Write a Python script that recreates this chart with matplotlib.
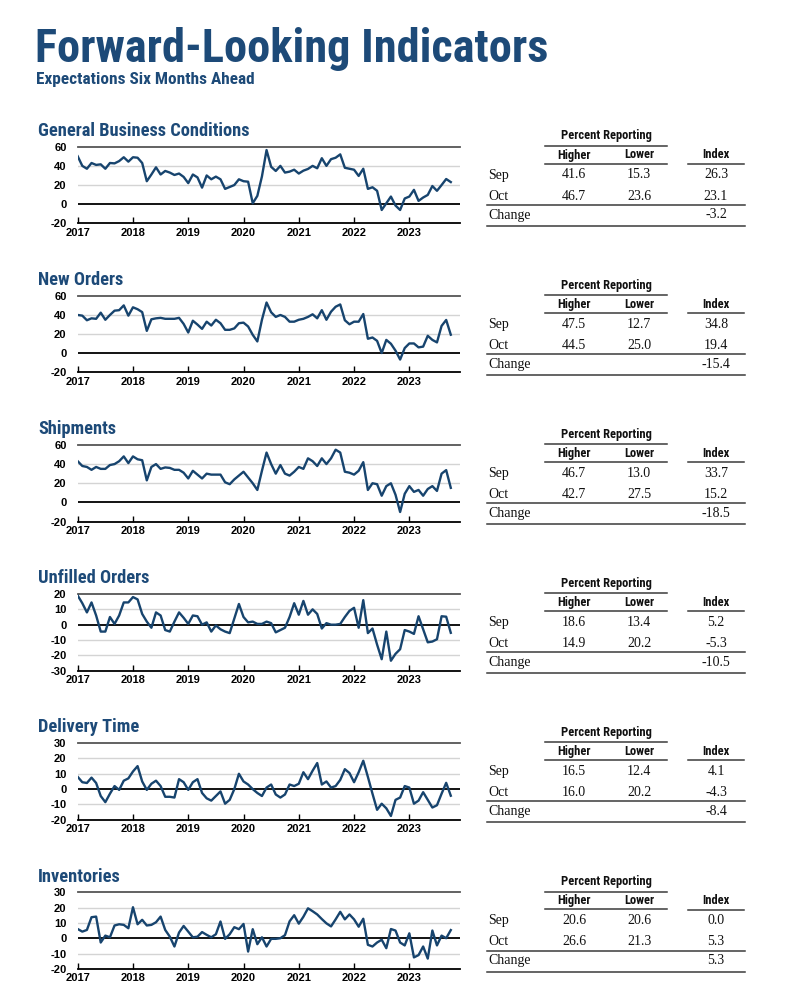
import numpy as np
import matplotlib
matplotlib.use('Agg')
import matplotlib.pyplot as plt
from matplotlib import font_manager

W, H = 787, 1000

title_col = '#1d4a78'
line_col = '#17446e'
serif = ['Liberation Serif', 'DejaVu Serif']
sans = ['Liberation Sans', 'DejaVu Sans']

# pick a narrow / condensed family if one is installed
avail = {}
for f in font_manager.fontManager.ttflist:
    avail.setdefault(f.name, set()).add(f.stretch)
narrow_name, narrow_stretch = 'Roboto', 'normal'
for cand in ['Liberation Sans Narrow', 'Roboto Condensed', 'Open Sans Condensed',
             'Noto Sans Condensed', 'DejaVu Sans Condensed', 'Arial Narrow']:
    if cand in avail:
        narrow_name, narrow_stretch = cand, 'normal'
        break
else:
    for cand in ['Noto Sans', 'Open Sans', 'Roboto', 'DejaVu Sans']:
        st = [s for s in avail.get(cand, ()) if 'condensed' in str(s)]
        if st:
            narrow_name, narrow_stretch = cand, st[0]
            break
narrow = dict(family=[narrow_name, 'DejaVu Sans'], stretch=narrow_stretch)

# ---- data (monthly, Jan 2017 - Oct 2023) ----
years = ['2017', '2018', '2019', '2020', '2021', '2022', '2023']
panel_titles = ['General Business Conditions', 'New Orders', 'Shipments',
                'Unfilled Orders', 'Delivery Time', 'Inventories']

general = [50, 40, 37, 43, 41, 41.6, 37, 43, 42.6, 45,
           49, 44.4, 49, 48.5, 43, 24, 31, 38.5, 31, 34.7,
           33, 30.5, 32, 28.5, 22, 31, 28, 17.3, 30, 26,
           28.8, 26, 16, 18, 20, 26, 24, 23.5, 1, 8.7,
           29, 56.5, 39, 34.7, 40, 33, 34, 36, 32, 35,
           36.8, 40, 37.5, 48, 40, 47, 48.5, 52, 38, 37,
           36, 29.5, 37, 16, 17.7, 14, -6, 1, 8, -1.4,
           -6, 6, 8, 15, 3.5, 7, 9.7, 19, 14, 20,
           26.3, 23.1]
new_orders = [40, 39.3, 34.5, 36.5, 36, 42.4, 35, 40, 44.5, 45,
              50, 39.3, 48, 46, 43, 23.4, 35.5, 36.5, 37, 36,
              36, 36, 37, 30.7, 21.7, 34, 30, 25.5, 33, 29,
              35, 31.4, 24.5, 24.5, 26, 31.4, 32, 28, 19.3, 12.4,
              35, 53, 42.8, 38, 40, 38, 33, 33, 35, 36,
              38, 40.7, 36.5, 45, 35, 43.4, 48.6, 51, 34.5, 30.3,
              33, 33, 41, 15.2, 16.5, 13, 0.3, 14, 10, 2.8,
              -6.5, 5.5, 10.3, 10.3, 6.2, 7, 18.3, 14, 11.4, 28.6,
              34.8, 19.4]
shipments = [43, 38, 37, 34, 37, 35, 35, 39, 40, 43,
             48, 41, 48, 45, 44, 23, 37, 40, 35, 36.5,
             36, 34, 34, 31, 25, 33, 29, 25, 30, 29,
             29, 29, 21, 19, 24, 28, 32, 26, 20, 13,
             33, 52, 40, 30, 39, 30, 28, 32, 37, 35,
             46, 43, 38, 46, 40, 46, 55, 52, 32, 31,
             29, 33, 42, 13, 20, 19, 7, 17, 20, 8,
             -10, 9, 17, 11, 13, 7, 14, 17, 12, 30,
             33.7, 15.2]
unfilled = [19, 14, 8, 14.5, 6, -4.5, -4.5, 5, 0.5, 6,
            14.5, 14.5, 18, 16.5, 7, 2, -2, 8, 6, -3.5,
            -4.5, 2, 8, 4.5, 0.5, 6, 5.5, 0, 1.5, -4.5,
            -0.5, -3, -4.5, -5.5, 4, 13.5, 5, 1.5, 2, 0.5,
            0.5, 2, 1, -5, -3.5, -2, 5, 14, 6.5, 15.5,
            6.5, 10, 7, -2.5, 1, 0, 0, 0.5, 5, 9,
            11, -2, 16, -5.5, -2.5, -13, -22.5, -4.5, -23.5, -19,
            -16, -3.5, -4.5, -6, 5.5, -3, -11.5, -11, -9.5, 5.5,
            5.2, -5.3]
delivery = [8, 4.5, 4, 7.5, 4, -4.5, -8.5, -3, 2, -0.5,
            5.5, 7, 11.5, 15, 5, -0.5, 3.5, 5.5, 2, -5,
            -5, -5.5, 6.5, 4.5, -0.5, 4.5, 6.5, -2.5, -6, -7.5,
            -4.5, -1.5, -9.5, -7, 0, 10, 5, 3, 0, -2.5,
            -4.5, 1, 3, -3.5, -5.5, -3.5, 3, 2, 3.5, 11,
            6.5, 12, 17, 3, 5, 1, 2, 6, 13, 10.5,
            4.5, 11, 18.5, 8, -3, -13.5, -9.5, -12.5, -17.5, -7,
            -5.5, 2, 1, -9.5, -7.5, -2, -7, -12, -10.5, -3,
            4.1, -4.3]
inventories = [6, 4.3, 5.4, 13.7, 14.1, -2.8, 1.7, 0.6, 8.3, 9.1,
               8.7, 6.5, 20.2, 9.1, 12, 8.3, 8.7, 10.4, 14.1, 5.4,
               1, -5.4, 3.7, 8, 4.3, 0.6, 1, 4, 2.2, 0.6,
               2.6, 10.9, -0.4, 2.6, 7.2, 5.9, 9.3, -8.7, 5.9, -3.9,
               0.6, -5.4, -0.4, -0.4, 0, 2, 11, 15, 9.5, 14,
               19.5, 17.6, 15.5, 12.5, 9.7, 7.7, 12.3, 17.2, 12.3, 15.5,
               12.3, 7.5, 12.7, -4.3, -5.4, -2.8, -1, -6.5, 6, 5,
               -2.8, -4.7, 3.2, -12.5, -11, -5.4, -13.3, 5, -4.7, 1.7,
               0.0, 5.3]

series = [general, new_orders, shipments, unfilled, delivery, inventories]
ylims = [(-20, 60), (-20, 60), (-20, 60), (-30, 20), (-20, 30), (-20, 30)]
ysteps = [20, 20, 20, 10, 10, 10]

# table values
sep_higher = [41.6, 47.5, 46.7, 18.6, 16.5, 20.6]
sep_lower = [15.3, 12.7, 13.0, 13.4, 12.4, 20.6]
sep_index = [26.3, 34.8, 33.7, 5.2, 4.1, 0.0]
oct_higher = [46.7, 44.5, 42.7, 14.9, 16.0, 26.6]
oct_lower = [23.6, 25.0, 27.5, 20.2, 20.2, 21.3]
oct_index = [23.1, 19.4, 15.2, -5.3, -4.3, 5.3]

fig = plt.figure(figsize=(W / 100, H / 100), dpi=100)
renderer = fig.canvas.get_renderer()


def fit(txt, width):
    # shrink/grow font so the text spans the width seen in the reference
    w = txt.get_window_extent(renderer).width
    txt.set_fontsize(txt.get_fontsize() * width / w)


# overlay in pixel coordinates for titles and tables
bg = fig.add_axes([0, 0, 1, 1])
bg.set_xlim(0, W)
bg.set_ylim(H, 0)
bg.axis('off')

t = bg.text(35, 62, 'Forward-Looking Indicators', weight='bold',
            fontsize=34, color=title_col, va='baseline', **narrow)
fit(t, 513)
t = bg.text(36, 84, 'Expectations Six Months Ahead', weight='bold',
            fontsize=12.5, color=title_col, va='baseline', **narrow)
fit(t, 219)

# common size for the panel titles
probe = bg.text(0, 0, panel_titles[0], weight='bold', fontsize=13, **narrow)
fit(probe, 211)
ptitle_size = probe.get_fontsize()
probe.remove()

probe = bg.text(0, 0, 'Percent Reporting', weight='bold', fontsize=8.5, **narrow)
fit(probe, 90)
hdr_size = probe.get_fontsize()
probe.remove()

step = 149.1
rule = '#3a3a3a'
for k in range(6):
    off = k * step
    top = 146.7 + off
    ax = fig.add_axes([77.7 / W, 1 - (top + 76.7) / H, (460 - 77.7) / W, 76.7 / H])
    vals = series[k]
    months = np.arange(len(vals))
    lo, hi = ylims[k]
    ticks = np.arange(lo, hi + 1, ysteps[k])

    for tk in ticks[1:-1]:
        if tk != 0:
            ax.axhline(tk, color='#d4d4d4', lw=1.0, zorder=1)
    ax.axhline(hi, color='#555555', lw=1.3, zorder=1, clip_on=False)
    ax.axhline(0, color='black', lw=1.3, zorder=2)
    ax.plot(months, vals, color=line_col, lw=1.7, zorder=3, solid_joinstyle='round')

    ax.set_xlim(0, 83)
    ax.set_ylim(lo, hi)
    ax.set_xticks(np.arange(0, 84, 12)[:len(years)])
    ax.set_xticklabels(years, fontweight='bold', family=sans, fontsize=8)
    ax.set_yticks(ticks)
    ax.set_yticklabels([str(tk) for tk in ticks], fontweight='bold', family=sans, fontsize=8)
    for s in ['top', 'left', 'right']:
        ax.spines[s].set_visible(False)
    ax.spines['bottom'].set_color('black')
    ax.spines['bottom'].set_linewidth(1.3)
    ax.tick_params(axis='x', direction='in', length=4.5, width=1, pad=3, colors='black')
    ax.tick_params(axis='y', length=0, pad=8, colors='black')
    ax.patch.set_alpha(0)

    # panel title
    bg.text(38, 131 + off, panel_titles[k], weight='bold',
            fontsize=ptitle_size, color=title_col, va='center', **narrow)

    # table
    hdr = dict(weight='bold', fontsize=hdr_size, ha='center', va='center', color='#111111', **narrow)
    cell = dict(family=serif, fontsize=10, ha='center', va='center', color='#111111')
    bg.text(606, 136 + off, 'Percent Reporting', **hdr)
    bg.plot([545, 667], [146 + off] * 2, color=rule, lw=1.1)
    bg.text(574, 155 + off, 'Higher', **hdr)
    bg.text(639, 155 + off, 'Lower', **hdr)
    bg.text(716, 155 + off, 'Index', **hdr)
    bg.plot([545, 667], [163.5 + off] * 2, color=rule, lw=1.1)
    bg.plot([688, 744], [164 + off] * 2, color=rule, lw=1.1)

    for y, lab, hv, lv, iv in [(175, 'Sep', sep_higher[k], sep_lower[k], sep_index[k]),
                                (196, 'Oct', oct_higher[k], oct_lower[k], oct_index[k])]:
        bg.text(488, y + off, lab, family=serif, fontsize=10, ha='left', va='center', color='#111111')
        bg.text(574, y + off, f'{hv:.1f}', **cell)
        bg.text(639, y + off, f'{lv:.1f}', **cell)
        bg.text(716, y + off, f'{iv:.1f}', **cell)
    bg.plot([487, 745], [205 + off] * 2, color=rule, lw=1.1)
    bg.text(488, 215 + off, 'Change', family=serif, fontsize=10, ha='left', va='center', color='#111111')
    bg.text(716, 215 + off, f'{oct_index[k] - sep_index[k]:.1f}', **cell)
    bg.plot([487, 745], [226 + off] * 2, color=rule, lw=1.1)

fig.savefig('out.png', dpi=100)
